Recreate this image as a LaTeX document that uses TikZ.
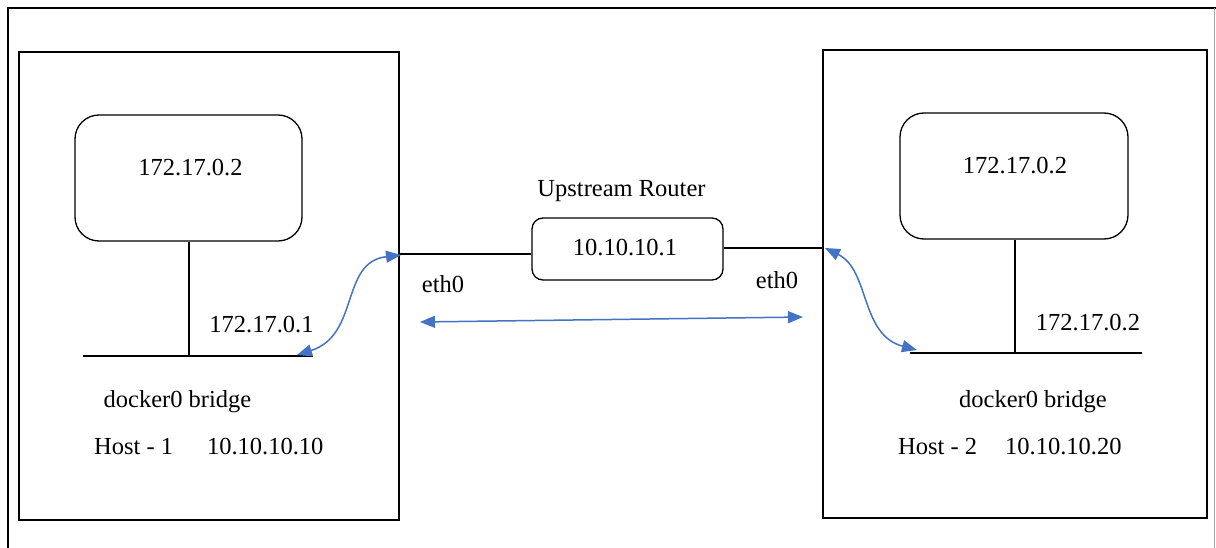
\documentclass[tikz,border=0pt]{standalone}
\usepackage{fontspec}
\setmainfont{Liberation Serif}
\usetikzlibrary{arrows.meta,calc}
\begin{document}
\begin{tikzpicture}[x=1pt,y=-1pt,
  every node/.style={font=\fontsize{24.5}{28}\selectfont, inner sep=0pt},
  hostbox/.style={draw=black, line width=1.5pt, rectangle},
  ctbox/.style={draw=black, line width=1.3pt, rectangle, rounded corners=24pt},
  rtbox/.style={draw=black, line width=1.3pt, rectangle, rounded corners=11pt},
  wire/.style={draw=black, line width=1.3pt},
  blink/.style={draw={rgb,255:red,68;green,114;blue,196}, line width=1.5pt,
     {Triangle[length=15pt,width=12pt]}-{Triangle[length=15pt,width=12pt]}},
  txt/.style={anchor=base}
]
\useasboundingbox (0,0) rectangle (1216,548);
\fill[white] (0,0) rectangle (1216,548);
% outer frame
\draw[line width=1.5pt] (8,548) -- (8,8) -- (1216,8);
\draw[line width=0.8pt, black!35] (1214.5,8) -- (1214.5,548);

% hosts
\node[hostbox, minimum width=380pt, minimum height=468pt] (h1) at (209,286) {};
\node[hostbox, minimum width=384pt, minimum height=468pt] (h2) at (1015,284) {};

% containers
\node[ctbox, minimum width=227pt, minimum height=126pt] (c1) at (188.5,178) {};
\node[ctbox, minimum width=228pt, minimum height=126pt] (c2) at (1014,176) {};
\node[txt] (c1t) at (190.5,176) {172.17.0.2};
\node[txt] (c2t) at (1015,174) {172.17.0.2};

% router
\node[rtbox, minimum width=191pt, minimum height=62pt] (r) at (627.5,249) {};
\node[txt] (rt) at (625,255) {10.10.10.1};
\node[txt] (ru) at (621.5,197) {Upstream Router};

% bridges
\coordinate (b1l) at (83,356);
\coordinate (b1r) at (313,356);
\coordinate (b2l) at (910,353);
\coordinate (b2r) at (1142,353);
\draw[wire] (b1l) -- (b1r);
\draw[wire] (b2l) -- (b2r);
\draw[wire] (c1.south -| 189,0) -- (189,356);
\draw[wire] (c2.south -| 1015,0) -- (1015,353);

% links to router
\draw[wire] ([yshift=-5pt]r.west -| h1.east) -- ([yshift=-5pt]r.west);
\draw[wire] ([yshift=1pt]r.east) -- ([yshift=1pt]r.east -| h2.west);

% labels
\node[txt] (ip1) at (261.5,332) {172.17.0.1};
\node[txt] (ip2) at (1088,330) {172.17.0.2};
\node[txt] (d1) at (177.5,407) {docker0 bridge};
\node[txt] (d2) at (1033,407) {docker0 bridge};
\node[anchor=base west] (hl1) at (94,454) {Host - 1\hspace{34pt}10.10.10.10};
\node[anchor=base west] (hl2) at (898,454) {Host - 2\hspace{28pt}10.10.10.20};
\node[txt] (e1) at (443,293) {eth0};
\node[txt] (e2) at (777,288) {eth0};

% blue arrows
\coordinate (a1) at (420,322);
\coordinate (a2) at (803,317);
\draw[blink] (a1) -- (a2);
\coordinate (t1) at (401,255);
\coordinate (s1) at (297,355);
\draw[blink] (s1) .. controls (360,335) and (340,262) .. (t1);
\coordinate (t2) at (825,248);
\coordinate (s2) at (917,350);
\draw[blink] (t2) .. controls (870,270) and (860,335) .. (s2);
\end{tikzpicture}
\end{document}
